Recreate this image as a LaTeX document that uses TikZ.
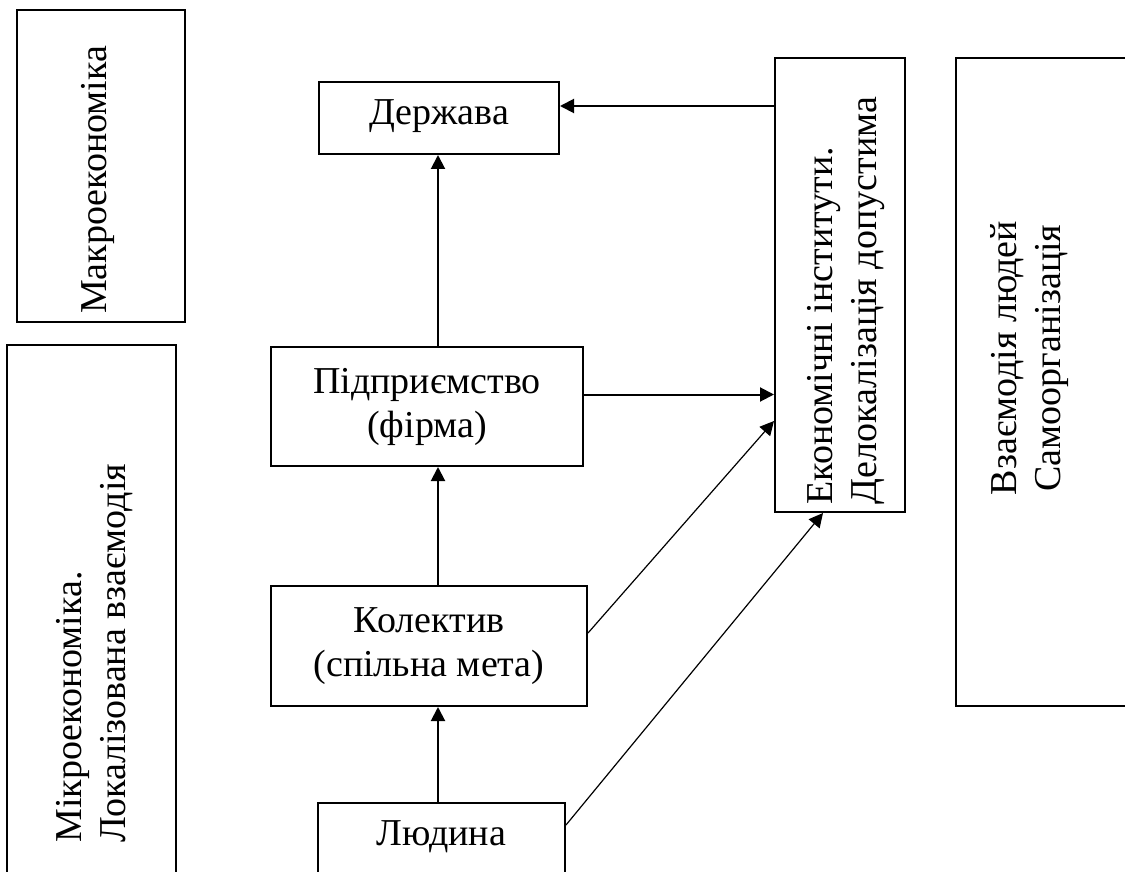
\documentclass[tikz,border=0pt]{standalone}
\usepackage{fontspec}
\setmainfont{Liberation Serif}
\usetikzlibrary{arrows.meta,calc}

\tikzset{
  frame/.style={draw, line width=1pt, inner sep=0pt, align=center},
  caption/.style={inner sep=0pt, font=\fontsize{19}{22}\selectfont},
  oneline/.style={text height=0.66em, text depth=0pt},
  arr/.style={-{Triangle[length=7pt,width=7pt]}, line width=1pt},
  thinarr/.style={-{Triangle[length=7pt,width=7pt]}, line width=0.6pt},
}

\begin{document}
\begin{tikzpicture}[x=0.5pt, y=-0.5pt, font=\fontsize{19}{22}\selectfont]
\useasboundingbox (0,0) rectangle (1125,872);
\clip (0,0) rectangle (1125,872);

% side panels
\node[frame, minimum width=84pt,  minimum height=156pt]   (macro) at (101,166) {};
\node[frame, minimum width=84.5pt, minimum height=327.5pt] (micro) at (91.5,672.5) {};
\node[frame, minimum width=122pt, minimum height=324pt]   (self)  at (1078,382) {};

\node[caption, rotate=90, anchor=base] (macrotxt) at (106,180) {Макроекономіка};
\node[caption, rotate=90, anchor=west, align=left] (microtxt) at (95,843)
  {Мікроекономіка.\\Локалізована взаємодія};
\node[caption, rotate=90, align=center] (selftxt) at (1030,358)
  {Взаємодія людей\\Самоорганізація};

% central hierarchy
\node[frame, oneline, minimum width=120pt, minimum height=36pt] (state) at (439,118) {Держава};
\node[frame, minimum width=156pt, minimum height=59.5pt] (firm) at (427,406.5) {Підприємство\\(фірма)};
\node[frame, minimum width=158pt, minimum height=60pt] (team) at (429,646) {Колектив\\(спільна мета)};
\node[frame, oneline, minimum width=123.5pt, minimum height=36pt] (person) at (441.5,839) {Людина};

% institutions
\node[frame, minimum width=65pt, minimum height=227pt] (inst) at (840,285) {};
\node[caption, rotate=90, anchor=west, align=left] (insttxt) at (846,505)
  {Економічні інститути.\\Делокалізація допустима};

\coordinate (axis) at (438,0);

% vertical chain
\draw[arr] (person.north -| axis) -- (team.south -| axis);
\draw[arr] (team.north -| axis) -- (firm.south -| axis);
\draw[arr] (firm.north -| axis) -- (state.south -| axis);

% links with the institutions
\draw[arr] ([yshift=6pt]state.east -| inst.west) -- ([yshift=6pt]state.east);
\draw[arr] ([yshift=6pt]firm.east) -- ([yshift=6pt]firm.east -| inst.west);
\draw[thinarr] ([yshift=6.5pt]team.east) -- ([yshift=46pt]inst.south west);
\draw[thinarr] ([yshift=7pt]person.east) -- ([xshift=-8.5pt]inst.south);
\end{tikzpicture}
\end{document}
